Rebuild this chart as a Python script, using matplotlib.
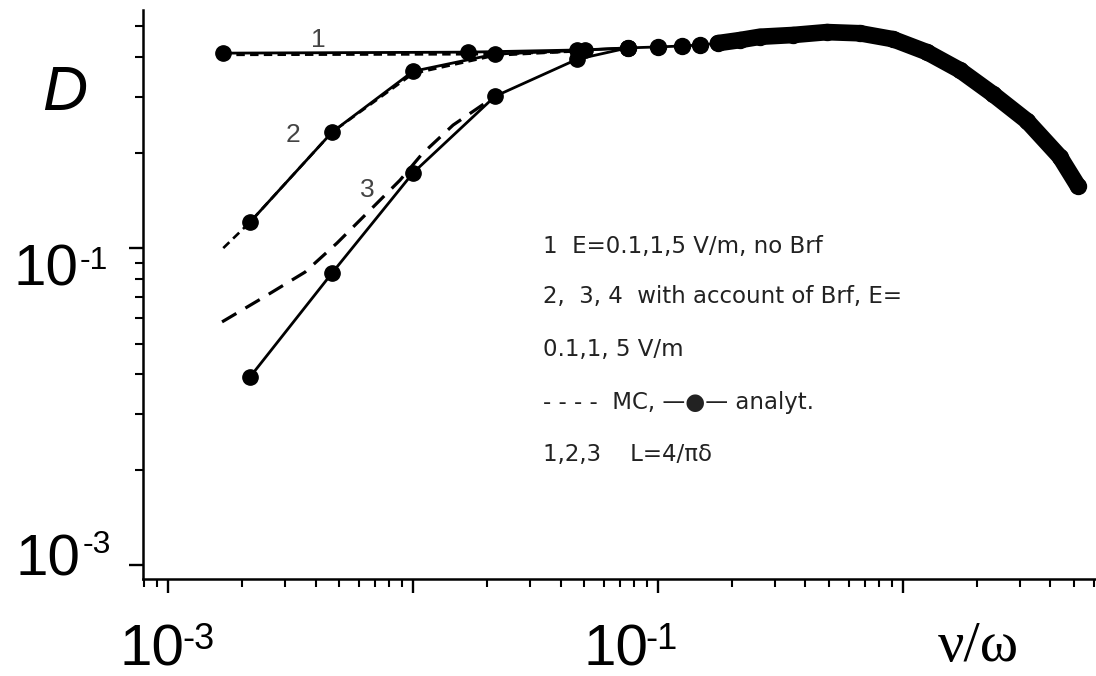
import numpy as np
import matplotlib
matplotlib.use('Agg')
import matplotlib.pyplot as plt
from matplotlib.ticker import LogLocator, NullFormatter

# analytic curves (solid with dots)
nu_1 = [0.001677, 0.01677, 0.0504, 0.0754]
D_1 = [0.412, 0.415, 0.422, 0.428]

nu_2 = [0.00216, 0.00467, 0.0100, 0.0216, 0.0467, 0.0754]
D_2 = [0.1207, 0.232, 0.361, 0.409, 0.420, 0.428]

nu_3 = [0.00216, 0.00467, 0.0100, 0.0216, 0.0467, 0.0754]
D_3 = [0.0392, 0.0834, 0.1726, 0.301, 0.394, 0.428]

# high-frequency part, where all curves coincide
nu_common = [0.0754, 0.100, 0.1253, 0.1484, 0.1757, 0.2161, 0.2608, 0.3556,
             0.4894, 0.6677, 0.9104, 1.253, 1.709, 2.330, 3.207, 4.373, 5.18]
D_common = [0.428, 0.431, 0.434, 0.437, 0.443, 0.453, 0.464, 0.470,
            0.480, 0.476, 0.456, 0.415, 0.364, 0.306, 0.252, 0.194, 0.157]

# Monte Carlo curves (dashed)
nu_mc1 = [0.0019, 0.0216, 0.0504]
D_mc1 = [0.407, 0.409, 0.418]

nu_mc2 = [0.00168, 0.00216, 0.00467, 0.0100, 0.0216, 0.0467]
D_mc2 = [0.100, 0.1207, 0.232, 0.355, 0.405, 0.418]

nu_mc3 = [0.001661, 0.002466, 0.003624, 0.004894, 0.00649, 0.00885,
          0.01088, 0.01457, 0.0216]
D_mc3 = [0.0585, 0.0701, 0.0840, 0.1037, 0.1289, 0.1638, 0.198, 0.2443, 0.301]

legend_lines = ['1  E=0.1,1,5 V/m, no Brf',
                '2,  3, 4  with account of Brf, E=',
                '0.1,1, 5 V/m',
                '- - - -  MC, \u2014\u25cf\u2014 analyt.',
                '1,2,3    L=4/\u03c0\u03b4']

W, H = 1096, 676
fig = plt.figure(figsize=(W / 100, H / 100), dpi=100)
ax = fig.add_axes([143 / W, 1 - 579 / H, 1 - 143 / W, 569 / H])
ax.set_xscale('log')
ax.set_yscale('log')
ax.set_xlim(7.9e-4, 6.14)
ax.set_ylim(0.00904, 0.5636)

for s in ['top', 'right']:
    ax.spines[s].set_visible(False)
for s in ['left', 'bottom']:
    ax.spines[s].set_linewidth(1.8)

for axis in [ax.xaxis, ax.yaxis]:
    axis.set_major_locator(LogLocator(base=10, numticks=20))
    axis.set_minor_locator(LogLocator(base=10, subs=np.arange(2, 10) * 1.0, numticks=20))
    axis.set_major_formatter(NullFormatter())
    axis.set_minor_formatter(NullFormatter())
ax.tick_params(which='major', direction='out', length=10, width=1.7)
ax.tick_params(which='minor', direction='out', length=5.5, width=1.5)

# MC dashed
ax.plot(nu_mc1, D_mc1, color='k', lw=1.9, dashes=(3.2, 2.0))
ax.plot(nu_mc2, D_mc2, color='k', lw=1.9, dashes=(3.2, 2.0))
ax.plot(nu_mc3, D_mc3, color='k', lw=2.3, dashes=(5.2, 3.3))

# analytic
for x, y in [(nu_1, D_1), (nu_2, D_2), (nu_3, D_3)]:
    ax.plot(x, y, color='k', lw=2.0, marker='o', ms=11)
ax.plot(nu_common, D_common, color='k', lw=2.0, marker='o', ms=11.5)
ax.plot(nu_common[4:], D_common[4:], color='k', lw=12,
        solid_capstyle='round', solid_joinstyle='round')


def px(x, y):
    return x / W, 1 - y / H


sans = 'Liberation Sans'
# curve numbers
for lab, x, y in [('1', 318, 47), ('2', 293, 142), ('3', 367, 197)]:
    fig.text(*px(x, y), lab, fontsize=19, family=sans, color='#444444',
             ha='center', va='baseline')

# legend block
for line, yb in zip(legend_lines, [253, 303, 356, 409, 461]):
    fig.text(*px(543, yb), line, fontsize=16.5, family='DejaVu Sans',
             color='#222222', ha='left', va='baseline')

# axis labels
fig.text(*px(42, 110), 'D', fontsize=45, family=sans, style='italic',
         ha='left', va='baseline')
fig.text(*px(938, 661), '\u03bd/\u03c9', fontsize=42, family='Liberation Serif',
         ha='left', va='baseline')

# tick labels (powers of ten as drawn in the original)
tick_labels = [(13, 285, 80, 246, '-1', 23),
               (16, 575, 83, 530, '-3', 23),
               (120, 666, 182, 622, '-3', 26),
               (583, 666, 645, 622, '-1', 26)]
for xb, yb, xe, ye, e, fs in tick_labels:
    fig.text(*px(xb, yb), '10', fontsize=42, family=sans, ha='left', va='baseline')
    fig.text(*px(xe, ye), e, fontsize=fs, family=sans, ha='left', va='top')

fig.savefig('out.png', dpi=100)
